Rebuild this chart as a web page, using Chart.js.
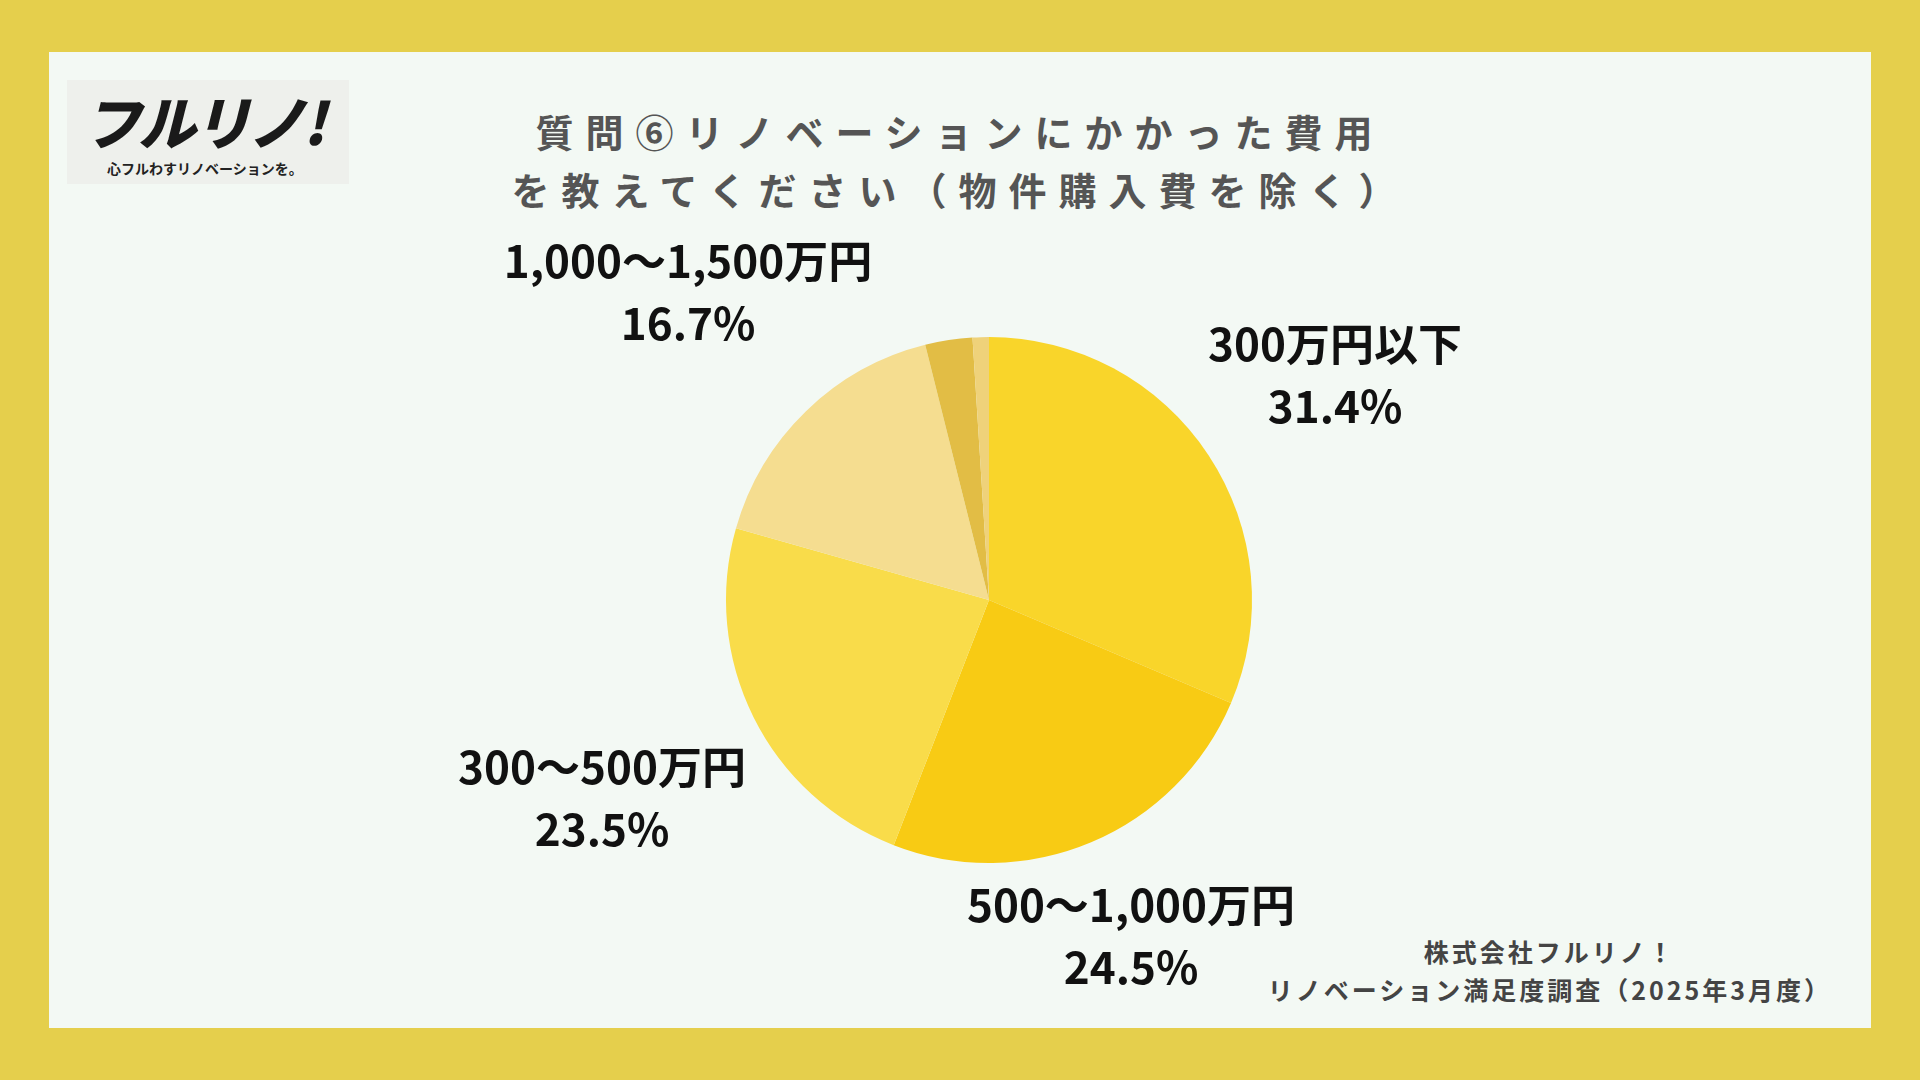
<!DOCTYPE html>
<html><head><meta charset="utf-8">
<script src="https://cdn.jsdelivr.net/npm/chart.js@4"></script>
<style>
body{margin:0;width:1920px;height:1080px;background:#E5CF4C;overflow:hidden;font-family:"Noto Sans CJK JP",sans-serif}
#panel{position:absolute;left:49px;top:52px;width:1822px;height:976px;background:#F3F9F4}
#title{position:absolute;left:0;width:1920px;top:102px;text-align:center;font-size:38px;font-weight:bold;color:#555;letter-spacing:12px;line-height:58px}
#logo{position:absolute;left:67px;top:80px;width:282px;height:104px;background:#EEF0EC;white-space:nowrap}
#logo .big{position:absolute;left:16px;top:-2px;font-size:58px;font-weight:900;font-style:italic;color:#1a1a1a;letter-spacing:-3px}
#logo .small{position:absolute;left:40px;top:78px;font-size:14px;font-weight:bold;color:#222}
#foot{position:absolute;right:88px;top:932px;text-align:center;font-size:25px;font-weight:bold;color:#444;letter-spacing:3px;line-height:38px;white-space:nowrap}
canvas{position:absolute;left:0;top:0}
</style></head><body>
<div id="panel"></div>
<div id="logo"><div class="big">フルリノ!</div><div class="small">心フルわすリノベーションを。</div></div>
<div id="title">質問⑥リノベーションにかかった費用<br>を教えてください（物件購入費を除く）</div>
<div id="foot">株式会社フルリノ！<br>リノベーション満足度調査（2025年3月度）</div>
<div style="position:absolute;left:0;top:0;width:1920px;height:1080px"><canvas id="c"></canvas></div>
<script>
const categories = ['300万円以下', '500〜1,000万円', '300〜500万円', '1,000〜1,500万円', '1,500〜2,000万円', '2,000万円以上'];
const values = [31.4, 24.5, 23.5, 16.7, 2.9, 1.0];
const colors = ['#F9D52A', '#F8CB14', '#F9DC4A', '#F5DD90', '#E2BD45', '#EFD27A'];
// label positions (x, y of first line) for the four large slices
const labelPos = [[1335, 344], [1131, 905], [602, 767], [688, 261]];

const labelPlugin = {
  id: 'labels',
  afterDraw(chart) {
    const c = chart.ctx;
    c.save();
    c.font = 'bold 44px "Noto Sans CJK JP"';
    c.fillStyle = '#111';
    c.textAlign = 'center';
    c.textBaseline = 'middle';
    labelPos.forEach((p, i) => {
      c.fillText(categories[i], p[0], p[1]);
      c.fillText(values[i].toFixed(1) + '%', p[0], p[1] + 62);
    });
    c.restore();
  }
};

new Chart(document.getElementById('c').getContext('2d'), {
  type: 'pie',
  data: {
    labels: categories,
    datasets: [{ data: values, backgroundColor: colors, borderWidth: 0 }]
  },
  options: {
    responsive: true,
    maintainAspectRatio: false,
    animation: false,
    layout: { padding: { left: 726, right: 668, top: 337, bottom: 217 } },
    plugins: { legend: { display: false }, tooltip: { enabled: false } }
  },
  plugins: [labelPlugin]
});
</script>
</body></html>
